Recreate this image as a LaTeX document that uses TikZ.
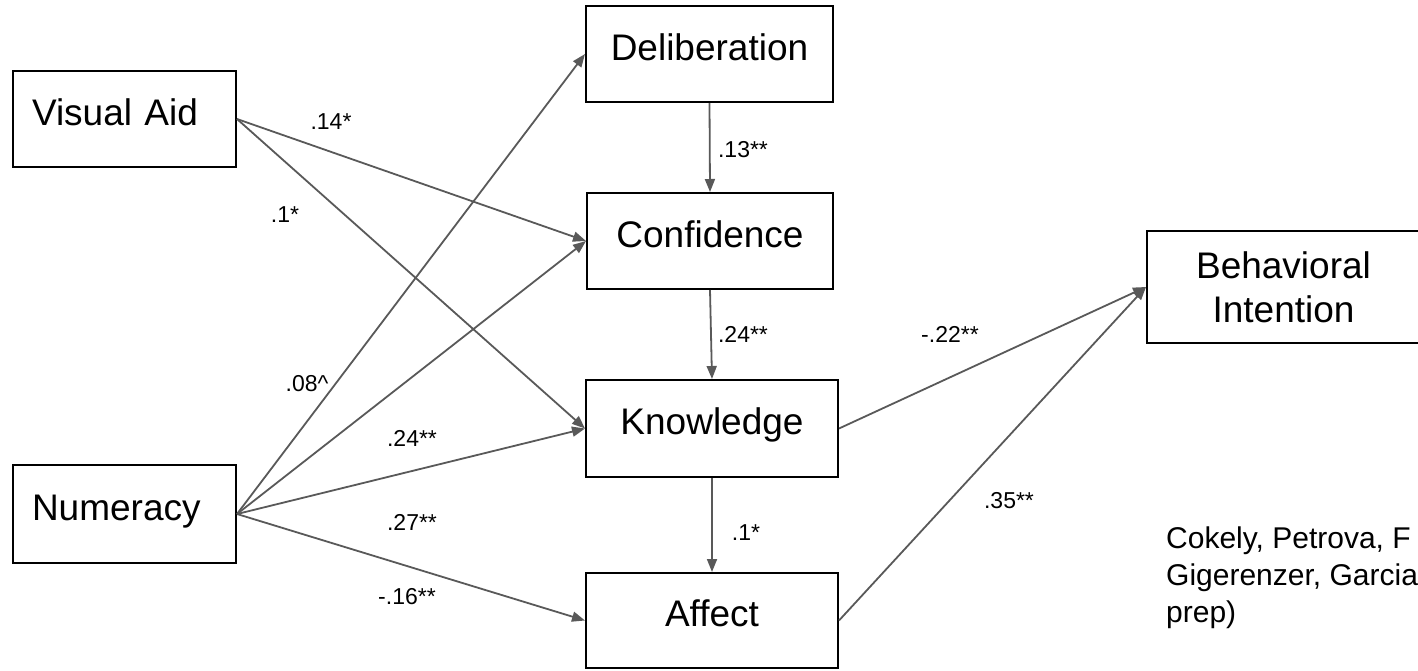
\documentclass[tikz,border=0pt]{standalone}
\usepackage{fontspec}
\setmainfont{Liberation Sans}
\usetikzlibrary{arrows.meta}

\definecolor{arrowgray}{HTML}{595959}

\begin{document}
\begin{tikzpicture}[
    % Global Styles
    x=1pt, y=-1pt,
    >={Triangle[length=13pt, width=10pt]},
    % Style for the variable boxes
    varbox/.style={draw=black, line width=2pt, inner sep=0pt, align=center,
        font=\fontsize{37}{44}\selectfont},
    onebox/.style={varbox, text height=27pt, text depth=15pt},
    leftbox/.style={onebox, text width=185pt, align=left},
    % Style for the paths and their coefficients
    path_arrow/.style={->, line width=1.8pt, draw=arrowgray, fill=arrowgray},
    coef/.style={inner sep=0pt, font=\fontsize{23}{27}\selectfont},
    cite/.style={inner sep=0pt, align=left, font=\fontsize{30}{37}\selectfont}
]

% Frame of the slide
\useasboundingbox (0,0) rectangle (1418,670);
\clip (0,0) rectangle (1418,670);

%% --- PREDICTORS ---
\node[leftbox, minimum width=223pt, minimum height=96pt] (vis) at (124.5,119) {Visual Aid};
\node[leftbox, minimum width=223pt, minimum height=98pt] (num) at (124.5,514) {Numeracy};

%% --- MEDIATORS ---
\node[onebox, minimum width=247pt, minimum height=96pt] (del) at (709.5,54) {Deliberation};
\node[onebox, minimum width=246pt, minimum height=96pt] (conf) at (710,241) {Confidence};
\node[onebox, minimum width=252pt, minimum height=97pt] (know) at (712,428.5) {Knowledge};
\node[onebox, minimum width=252pt, minimum height=95pt] (aff) at (712,620.5) {Affect};

%% --- OUTCOME ---
\node[varbox, minimum width=273pt, minimum height=112pt] (beh) at (1283.5,287) {Behavioral\\Intention};

%% --- PATHS ---
% Visual Aid
\draw[path_arrow] (vis.east) -- (conf.west);
\draw[path_arrow] (vis.east) -- (know.west);

% Numeracy
\draw[path_arrow] (num.east) -- (del.west);
\draw[path_arrow] (num.east) -- (conf.west);
\draw[path_arrow] (num.east) -- (know.west);
\draw[path_arrow] (num.east) -- (aff.west);

% Chain down the middle
\draw[path_arrow] (del.south) -- (conf.north);
\draw[path_arrow] (conf.south) -- (know.north);
\draw[path_arrow] (know.south) -- (aff.north);

% Into the intention
\draw[path_arrow] (know.east) -- (beh.west);
\draw[path_arrow] (aff.east) -- (beh.west);

%% --- COEFFICIENTS ---
\node[coef] (c_vis_conf) at (331,122) {.14*};
\node[coef] (c_vis_know) at (285,215) {.1*};
\node[coef] (c_num_del) at (307,384) {.08\^{}};
\node[coef] (c_num_know) at (412,438) {.24**};
\node[coef] (c_num_conf) at (412,522) {.27**};
\node[coef] (c_num_aff) at (407,597) {-.16**};
\node[coef] (c_del_conf) at (743,150) {.13**};
\node[coef] (c_conf_know) at (743,334) {.24**};
\node[coef] (c_know_aff) at (746,533) {.1*};
\node[coef] (c_know_beh) at (950,334) {-.22**};
\node[coef] (c_aff_beh) at (1009,501) {.35**};

%% --- SOURCE ---
\node[cite, anchor=north west] (source) at (1166,527) {Cokely, Petrova, F\\Gigerenzer, Garcia\\prep)};

\end{tikzpicture}
\end{document}
